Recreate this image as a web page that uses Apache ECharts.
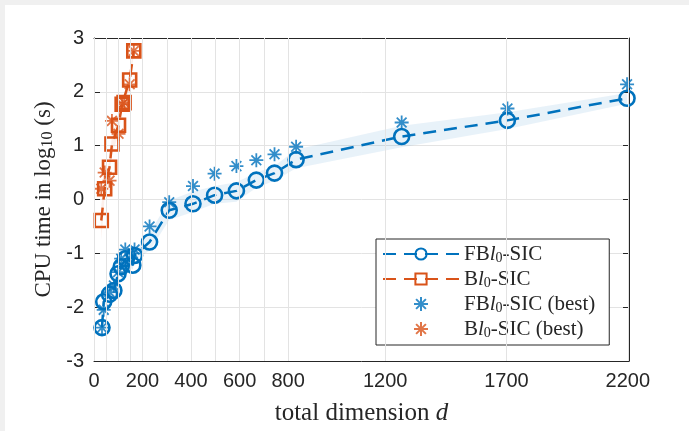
<!DOCTYPE html>
<html>
<head>
<meta charset="utf-8">
<script src="https://cdn.jsdelivr.net/npm/echarts@6/dist/echarts.min.js"></script>
<style>
  html, body { margin: 0; padding: 0; background: #f0f0f0; }
  #chart { position: absolute; left: 5px; top: 5px; width: 684px; height: 426px; background: #fff; }
</style>
</head>
<body>
<div id="chart"></div>
<script>
// ----------------- D A T A ----------------- //
const fbDim = [33, 40, 64, 82, 99, 112, 129, 160, 167, 229, 310, 408, 497, 587, 669, 744, 833, 1268, 1704, 2197]
const fbTime = [-2.38, -1.9, -1.76, -1.69, -1.38, -1.25, -1.1, -1.22, -1.04, -0.79, -0.2, -0.08, 0.08, 0.16, 0.36, 0.49, 0.74, 1.17, 1.47, 1.88]
const fbBest = [-2.38, -2.05, -1.72, -1.6, -1.35, -1.1, -0.93, -1.0, -0.93, -0.5, -0.05, 0.25, 0.48, 0.62, 0.73, 0.84, 0.98, 1.43, 1.69, 2.14]
const fbLow = [-2.45, -2.0, -1.85, -1.78, -1.48, -1.35, -1.2, -1.3, -1.12, -0.95, -0.38, -0.23, -0.08, -0.04, 0.22, 0.35, 0.58, 0.97, 1.31, 1.78]
const fbHigh = [-2.3, -1.8, -1.65, -1.58, -1.28, -1.12, -0.95, -1.1, -0.92, -0.62, -0.02, 0.15, 0.25, 0.32, 0.5, 0.62, 0.93, 1.37, 1.62, 1.98]

const bDim = [30, 44, 64, 74, 101, 116, 124, 147, 164]
const bTime = [-0.39, 0.2, 0.6, 1.03, 1.38, 1.77, 1.8, 2.22, 2.76]
const bBest = [0.2, 0.5, 0.35, 1.46, 1.22, 1.77, 1.8, 2.14, 2.76]
const bLow = [-0.75, 0.05, 0.45, 0.85, 1.2, 1.65, 1.7, 2.1, 2.7]
const bHigh = [-0.1, 0.35, 0.75, 1.2, 1.55, 1.9, 1.95, 2.35, 2.85]

const xTicks = [0, 50, 100, 150, 200, 300, 400, 500, 600, 700, 800, 1200, 1700, 2200]
const xLabels = [0, 200, 400, 600, 800, 1200, 1700, 2200]

// --------------- C O N S T A N T --------------- //
const BLUE = '#0072BD'
const ORANGE = '#D95319'
const TXT = '#262626'
const GRID = '#e3e3e3'
const STAR = 'path://M0,-1L0,1M-1,0L1,0M-0.7,-0.7L0.7,0.7M-0.7,0.7L0.7,-0.7'
const SANS = '"Liberation Sans", Arial, sans-serif'
const SERIF = '"Liberation Serif", "DejaVu Serif", serif'

const pairs = (xs, ys) => xs.map((x, i) => [x, ys[i]])

// band polygon drawn once through the axis scales
const band = (xs, lo, hi, fill) => ({
  type: 'custom',
  silent: true,
  z: 1,
  data: xs.map((x, i) => [x, lo[i], hi[i]]),
  renderItem: (params, api) => {
    if (params.dataIndex !== 0) return
    const top = xs.map((x, i) => api.coord([x, hi[i]]))
    const bot = xs.map((x, i) => api.coord([x, lo[i]])).reverse()
    return {
      type: 'polygon',
      shape: { points: top.concat(bot) },
      style: { fill: fill, stroke: 'none' }
    }
  }
})

// vertical grid lines at the custom tick values
const xGrid = {
  silent: true,
  symbol: 'none',
  label: { show: false },
  lineStyle: { color: GRID, width: 1, type: 'solid' },
  data: xTicks.map((v) => ({ xAxis: v }))
}

const legendNames = {
  'FB-SIC': '{n|FB}{i|l}{s|0}{n|-SIC}',
  'B-SIC': '{n|B}{i|l}{s|0}{n|-SIC}',
  'FB-SIC (best)': '{n|FB}{i|l}{s|0}{n|-SIC (best)}',
  'B-SIC (best)': '{n|B}{i|l}{s|0}{n|-SIC (best)}'
}

const axisLine = { show: true, onZero: false, lineStyle: { color: TXT, width: 1 } }

const option = {
  animation: false,
  grid: { left: 89, right: 60, top: 33, bottom: 64 },
  legend: {
    data: ['FB-SIC', 'B-SIC', 'FB-SIC (best)', 'B-SIC (best)'],
    orient: 'vertical',
    left: 371,
    top: 234,
    padding: [5, 14, 5, 6],
    itemGap: 4,
    itemWidth: 76,
    itemHeight: 14,
    backgroundColor: '#fff',
    borderColor: TXT,
    borderWidth: 1,
    borderRadius: 0,
    formatter: (name) => legendNames[name],
    textStyle: {
      rich: {
        n: { fontFamily: SERIF, fontSize: 21, color: TXT, lineHeight: 22, verticalAlign: 'bottom' },
        i: { fontFamily: SERIF, fontSize: 21, fontStyle: 'italic', color: TXT, lineHeight: 22, verticalAlign: 'bottom' },
        s: { fontFamily: SERIF, fontSize: 14, color: TXT, lineHeight: 14, verticalAlign: 'bottom' }
      }
    }
  },
  xAxis: [
    {
      type: 'value',
      min: 0,
      max: 2205,
      name: 'total dimension {i|d}',
      nameLocation: 'middle',
      nameGap: 40,
      nameTextStyle: {
        rich: {
          i: { fontFamily: SERIF, fontSize: 25, fontStyle: 'italic', color: TXT }
        },
        fontFamily: SERIF, fontSize: 25, color: TXT
      },
      axisLine: axisLine,
      axisTick: { inside: true, length: 6, customValues: xTicks, lineStyle: { color: TXT } },
      axisLabel: { customValues: xLabels, formatter: (v) => String(v), fontFamily: SANS, fontSize: 20, color: TXT, margin: 10 },
      splitLine: { show: false }
    },
    {
      type: 'value',
      position: 'top',
      min: 0,
      max: 2205,
      axisLine: axisLine,
      axisTick: { inside: true, length: 6, customValues: xTicks, lineStyle: { color: TXT } },
      axisLabel: { show: false },
      splitLine: { show: false }
    }
  ],
  yAxis: [
    {
      type: 'value',
      min: -3,
      max: 3,
      interval: 1,
      name: '{n|CPU time in log}{s|10}{n| (s)}',
      nameLocation: 'middle',
      nameGap: 37,
      nameTextStyle: {
        rich: {
          n: { fontFamily: SERIF, fontSize: 23, color: TXT, lineHeight: 28, verticalAlign: 'bottom' },
          s: { fontFamily: SERIF, fontSize: 16, color: TXT, lineHeight: 15, verticalAlign: 'bottom' }
        }
      },
      axisLine: axisLine,
      axisTick: { show: true, inside: true, length: 6, lineStyle: { color: TXT } },
      axisLabel: { fontFamily: SANS, fontSize: 20, color: TXT, margin: 10 },
      splitLine: { show: true, lineStyle: { color: GRID, width: 1 } }
    },
    {
      type: 'value',
      position: 'right',
      min: -3,
      max: 3,
      interval: 1,
      axisLine: axisLine,
      axisTick: { show: true, inside: true, length: 6, lineStyle: { color: TXT } },
      axisLabel: { show: false },
      splitLine: { show: false }
    }
  ],
  series: [
    Object.assign(band(fbDim, fbLow, fbHigh, 'rgba(0,114,189,0.09)'), { markLine: xGrid }),
    band(bDim, bLow, bHigh, 'rgba(217,83,25,0.09)'),
    {
      name: 'FB-SIC',
      type: 'line',
      z: 3,
      data: pairs(fbDim, fbTime),
      symbol: 'circle',
      symbolSize: 15,
      showAllSymbol: true,
      lineStyle: { color: BLUE, width: 2.5, type: [13, 8] },
      itemStyle: { color: 'rgba(0,0,0,0)', borderColor: BLUE, borderWidth: 2.6 }
    },
    {
      name: 'B-SIC',
      type: 'line',
      z: 3,
      data: pairs(bDim, bTime),
      symbol: 'rect',
      symbolSize: 13,
      showAllSymbol: true,
      lineStyle: { color: ORANGE, width: 2.5, type: [13, 8] },
      itemStyle: { color: 'rgba(0,0,0,0)', borderColor: ORANGE, borderWidth: 2.6 }
    },
    {
      name: 'FB-SIC (best)',
      type: 'scatter',
      z: 4,
      data: pairs(fbDim, fbBest),
      symbol: STAR,
      symbolSize: 14,
      itemStyle: { color: 'rgba(0,0,0,0)', borderColor: BLUE, borderWidth: 1.8 }
    },
    {
      name: 'B-SIC (best)',
      type: 'scatter',
      z: 4,
      data: pairs(bDim, bBest),
      symbol: STAR,
      symbolSize: 14,
      itemStyle: { color: 'rgba(0,0,0,0)', borderColor: ORANGE, borderWidth: 1.8 }
    }
  ]
}

const myChart = echarts.init(document.getElementById('chart'))
myChart.setOption(option)
</script>
</body>
</html>
